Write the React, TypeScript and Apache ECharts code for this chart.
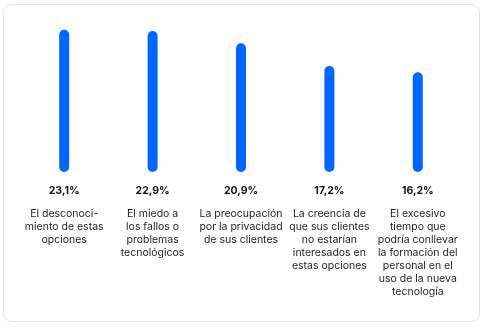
import React, { useEffect, useRef } from "react";
import * as echarts from "echarts";

const categories = [
  "El desconoci-\nmiento de estas\nopciones",
  "El miedo a\nlos fallos o\nproblemas\ntecnológicos",
  "La preocupación\npor la privacidad\nde sus clientes",
  "La creencia de\nque sus clientes\nno estarían\ninteresados en\nestas opciones",
  "El excesivo\ntiempo que\npodría conllevar\nla formación del\npersonal en el\nuso de la nueva\ntecnología",
];
const values = [23.1, 22.9, 20.9, 17.2, 16.2];

const FONT = "Inter, 'Noto Sans', sans-serif";

export default function App() {
  const ref = useRef<HTMLDivElement>(null);
  useEffect(() => {
    const chart = echarts.init(ref.current!, null, { renderer: "svg" });
    chart.setOption({
      animation: false,
      graphic: [
        {
          type: "rect",
          shape: { x: 3.5, y: 4.5, width: 476, height: 317, r: 8 },
          style: { fill: "#fff", stroke: "#e2e2e2", lineWidth: 1 },
          z: -10,
          silent: true,
        },
      ],
      grid: { left: 20, right: 25, top: 18, bottom: 159 },
      xAxis: {
        type: "category",
        data: categories,
        axisLine: { show: false },
        axisTick: { show: false },
        axisLabel: {
          interval: 0,
          margin: 35,
          color: "#1f1f1f",
          fontFamily: FONT,
          fontSize: 10.5,
          lineHeight: 13,
        },
      },
      yAxis: { type: "value", min: 0, max: 25, show: false },
      series: [
        {
          type: "bar",
          data: values,
          barWidth: 10,
          itemStyle: { color: "#0066ff", borderRadius: 5 },
          label: {
            show: true,
            position: "bottom",
            distance: 13,
            color: "#111",
            fontFamily: FONT,
            fontWeight: "bold",
            fontSize: 10.5,
            formatter: (p: any) => String(p.value).replace(".", ",") + "%",
          },
        },
      ],
    });
    return () => chart.dispose();
  }, []);
  return (
    <div
      ref={ref}
      style={{ position: "fixed", left: 0, top: 0, width: 487, height: 331 }}
    />
  );
}
